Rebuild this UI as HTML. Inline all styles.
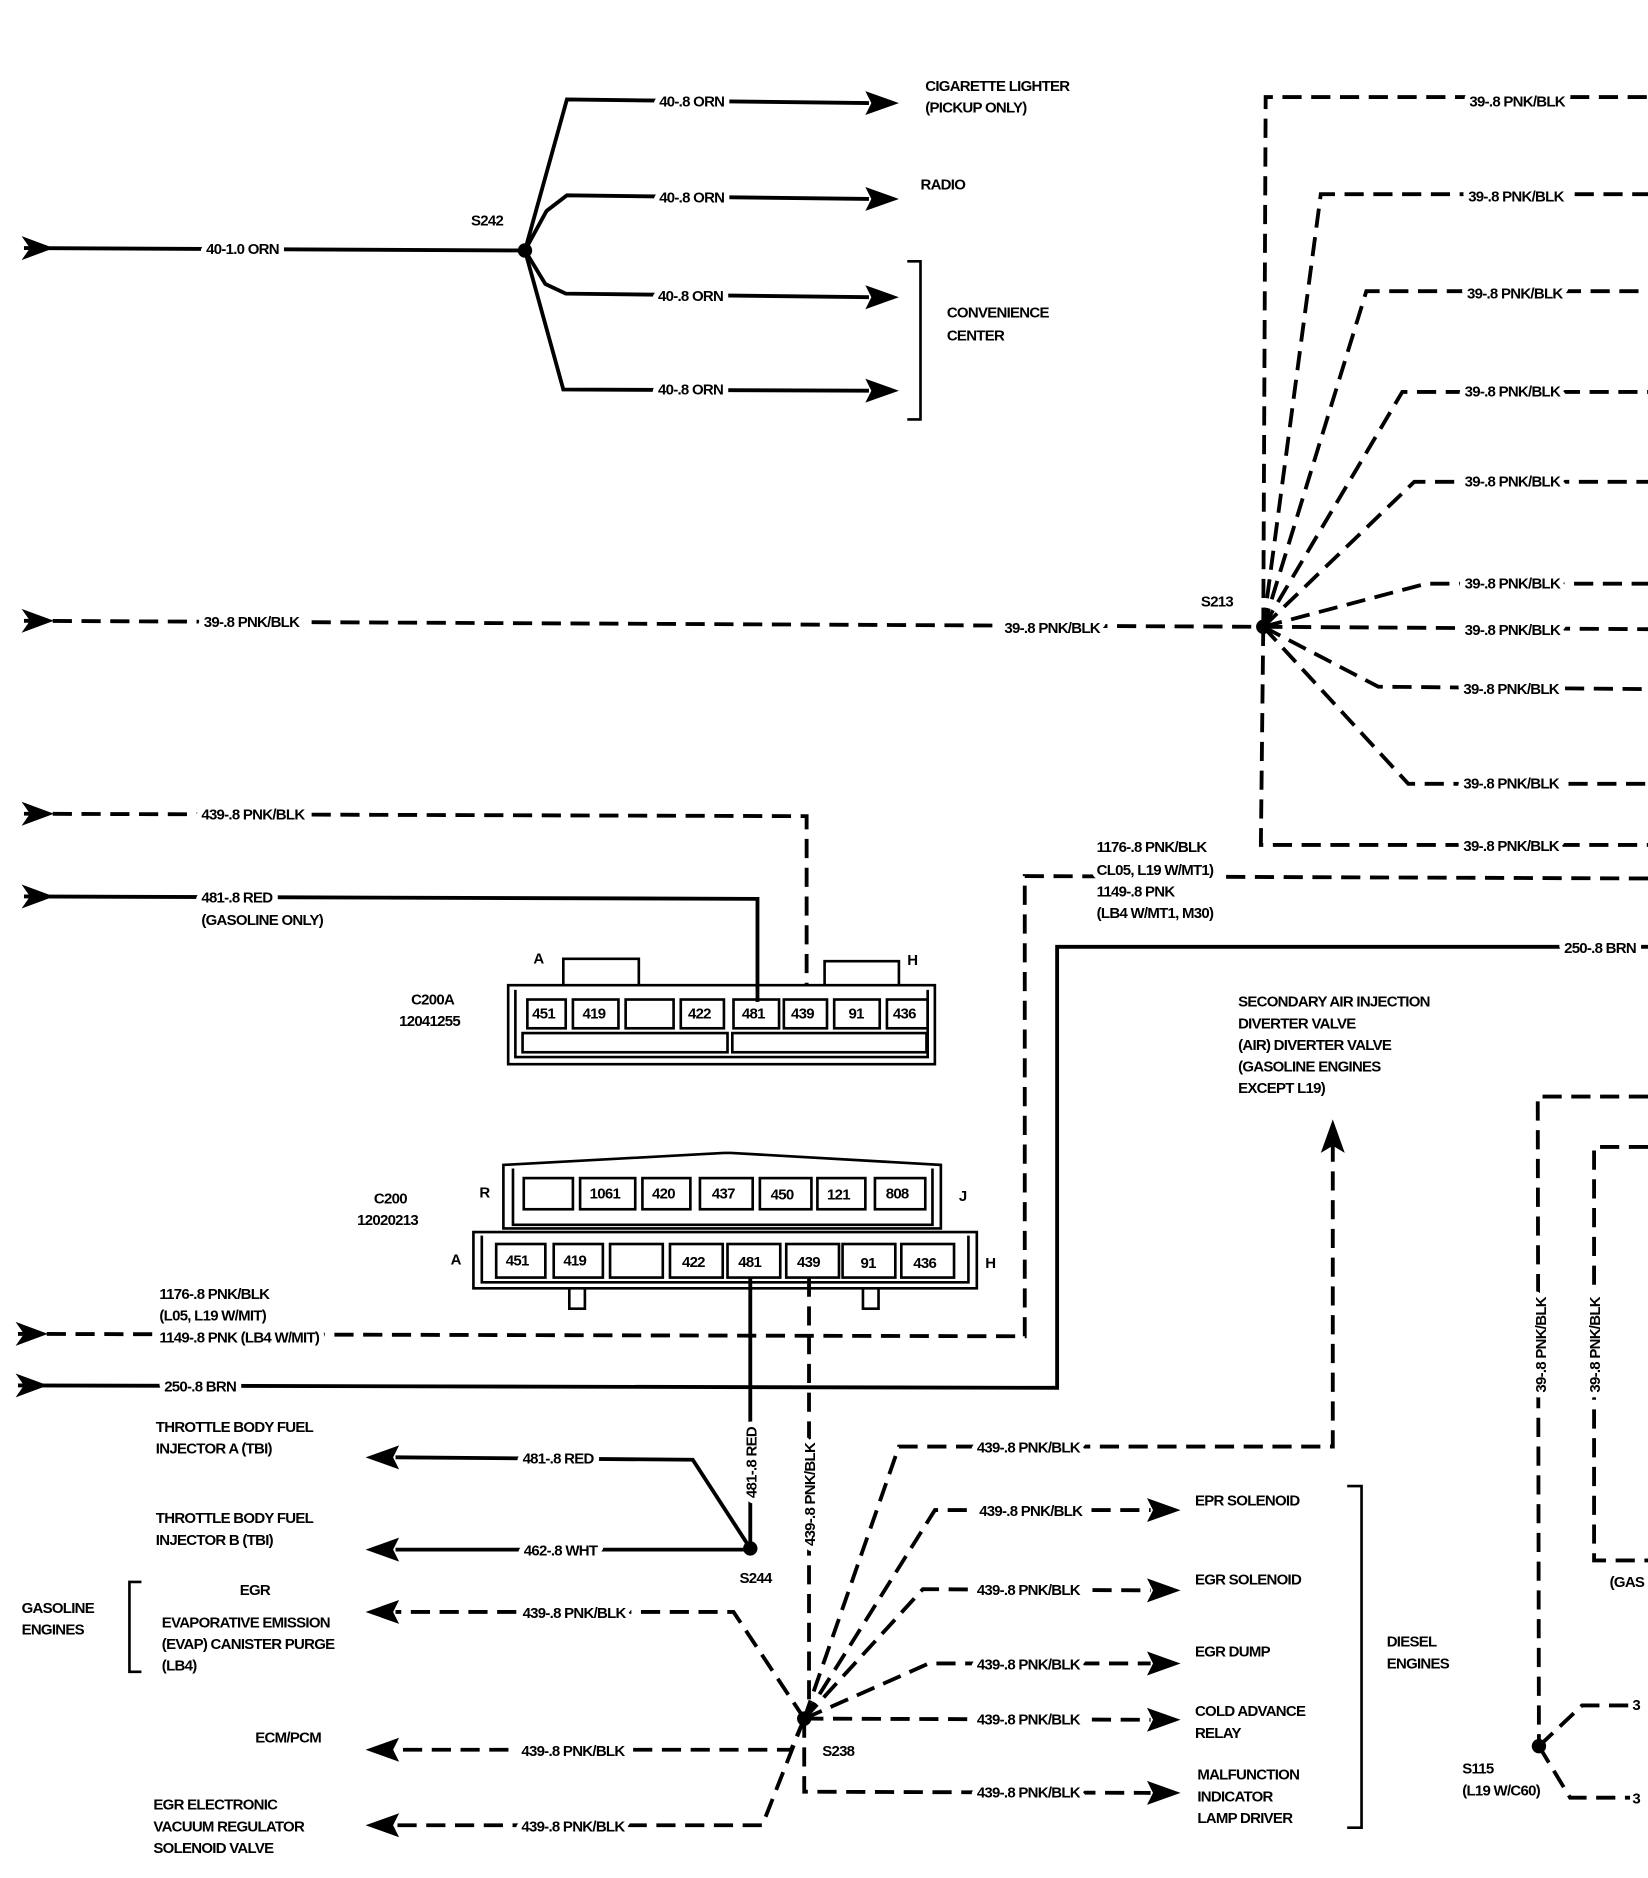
<!DOCTYPE html>
<html><head><meta charset="utf-8"><style>
html,body{margin:0;padding:0;background:#fff;}
svg{display:block;}
text{font-family:"Liberation Sans",sans-serif;font-weight:bold;font-size:12.5px;fill:#000;letter-spacing:-0.6px;}
.g{paint-order:stroke;stroke:#fff;stroke-width:9px;stroke-linejoin:round;}
.s{fill:none;stroke:#000;stroke-width:3.2;}
.d{fill:none;stroke:#000;stroke-width:3.2;stroke-dasharray:16 8;}
.b{fill:none;stroke:#000;stroke-width:2.2;}
</style></head><body>
<svg width="1648" height="1878" viewBox="0 0 1375 1567" preserveAspectRatio="none" xmlns="http://www.w3.org/2000/svg">
<rect width="1375" height="1567" fill="#fff"/>
<!-- S242 -->
<polyline class="s" points="20,207 438,209"/>
<polygon points="18,197 45,207 18,217 25,207"/>
<text class="g" x="172" y="212">40-1.0 ORN</text>
<circle cx="438" cy="209" r="6"/>
<text x="393" y="188">S242</text>
<polyline class="s" points="438,209 473,83 725,86"/>
<polyline class="s" points="438,209 456,176 473,163 725,166"/>
<polyline class="s" points="438,209 455,237 472,245 725,248"/>
<polyline class="s" points="438,209 470,325 725,326"/>
<polygon points="722,76 750,86 722,96 727,86"/>
<polygon points="722,156 750,166 722,176 727,166"/>
<polygon points="722,238 750,248 722,258 727,248"/>
<polygon points="722,316 750,326 722,336 727,326"/>
<text class="g" x="550" y="89">40-.8 ORN</text>
<text class="g" x="550" y="169">40-.8 ORN</text>
<text class="g" x="549" y="251">40-.8 ORN</text>
<text class="g" x="549" y="329">40-.8 ORN</text>
<text x="772" y="76">CIGARETTE LIGHTER</text>
<text x="772" y="94">(PICKUP ONLY)</text>
<text x="768" y="158">RADIO</text>
<polyline class="b" points="757,218 768,218 768,350 757,350"/>
<text x="790" y="265">CONVENIENCE</text>
<text x="790" y="284">CENTER</text>
<!-- S213 -->
<polyline class="d" points="20,518 1054,523"/>
<polygon points="18,508 45,518 18,528 25,518"/>
<text class="g" x="170" y="523">39-.8 PNK/BLK</text>
<text class="g" x="838" y="528">39-.8 PNK/BLK</text>
<circle cx="1054" cy="523" r="6"/>
<text x="1002" y="506">S213</text>
<polyline class="d" points="1054,523 1056,81 1375,81"/>
<polyline class="d" points="1054,523 1102,162 1375,162"/>
<polyline class="d" points="1054,523 1140,243 1375,243"/>
<polyline class="d" points="1054,523 1170,327 1375,327"/>
<polyline class="d" points="1054,523 1180,402 1375,402"/>
<polyline class="d" points="1054,523 1190,487 1375,487"/>
<polyline class="d" points="1054,523 1375,525"/>
<polyline class="d" points="1054,523 1150,573 1375,575"/>
<polyline class="d" points="1054,523 1175,654 1375,654"/>
<polyline class="d" points="1054,523 1052,705 1375,705"/>
<text class="g" x="1226" y="89">39-.8 PNK/BLK</text>
<text class="g" x="1225" y="168">39-.8 PNK/BLK</text>
<text class="g" x="1224" y="249">39-.8 PNK/BLK</text>
<text class="g" x="1222" y="331">39-.8 PNK/BLK</text>
<text class="g" x="1222" y="406">39-.8 PNK/BLK</text>
<text class="g" x="1222" y="491">39-.8 PNK/BLK</text>
<text class="g" x="1222" y="530">39-.8 PNK/BLK</text>
<text class="g" x="1221" y="579">39-.8 PNK/BLK</text>
<text class="g" x="1221" y="658">39-.8 PNK/BLK</text>
<text class="g" x="1221" y="710">39-.8 PNK/BLK</text>
<!-- 439 / 481 inputs -->
<polyline class="d" points="20,679 673,681 673,822"/>
<polygon points="18,669 45,679 18,689 25,679"/>
<text class="g" x="168" y="684">439-.8 PNK/BLK</text>
<polyline class="s" points="20,748 632,750 632,836"/>
<polygon points="18,738 45,748 18,758 25,748"/>
<text class="g" x="168" y="753">481-.8 RED</text>
<text x="168" y="772">(GASOLINE ONLY)</text>
<!-- C200A -->
<g class="b">
<path d="M424,822 L424,888 L780,888 L780,822 Z"/>
<path d="M430,826 L430,882 L774,882 L774,826"/>
<path d="M470,822 L470,800 L533,800 L533,822"/>
<path d="M688,822 L688,802 L750,802 L750,822"/>
<rect x="440" y="834" width="32" height="24"/><rect x="478" y="834" width="38" height="24"/><rect x="522" y="834" width="40" height="24"/><rect x="568" y="834" width="36" height="24"/><rect x="612" y="834" width="38" height="24"/><rect x="654" y="834" width="36" height="24"/><rect x="696" y="834" width="38" height="24"/><rect x="740" y="834" width="34" height="24"/>
<rect x="436" y="862" width="171" height="16"/><rect x="611" y="862" width="162" height="16"/>
</g>
<text x="444" y="850">451</text><text x="486" y="850">419</text><text x="574" y="850">422</text><text x="619" y="850">481</text><text x="660" y="850">439</text><text x="708" y="850">91</text><text x="745" y="850">436</text>
<text x="445" y="804">A</text><text x="757" y="805">H</text>
<text x="343" y="838">C200A</text><text x="333" y="856">12041255</text>
<!-- C200 -->
<g class="b">
<path d="M420,972 L604,962 L610,962 L785,972 L785,1025 L420,1025 Z"/>
<path d="M428,975 L428,1022 L778,1022 L778,975"/>
<rect x="437" y="983" width="41" height="26"/><rect x="484" y="983" width="46" height="26"/><rect x="536" y="983" width="40" height="26"/><rect x="584" y="983" width="44" height="26"/><rect x="634" y="983" width="43" height="26"/><rect x="682" y="983" width="40" height="26"/><rect x="730" y="983" width="42" height="26"/>
<path d="M395,1028 L815,1028 L815,1075 L395,1075 Z"/>
<path d="M402,1031 L402,1070 L808,1070 L808,1031"/>
<rect x="414" y="1038" width="41" height="28"/><rect x="462" y="1038" width="41" height="28"/><rect x="509" y="1038" width="44" height="28"/><rect x="559" y="1038" width="44" height="28"/><rect x="607" y="1038" width="44" height="28"/><rect x="656" y="1038" width="44" height="28"/><rect x="703" y="1038" width="44" height="28"/><rect x="752" y="1038" width="44" height="28"/>
<path d="M475,1075 L475,1092 L488,1092 L488,1075"/><path d="M720,1075 L720,1092 L733,1092 L733,1075"/>
</g>
<text x="492" y="1000">1061</text><text x="544" y="1000">420</text><text x="594" y="1000">437</text><text x="643" y="1001">450</text><text x="690" y="1001">121</text><text x="739" y="1000">808</text>
<text x="422" y="1056">451</text><text x="470" y="1056">419</text><text x="569" y="1057">422</text><text x="616" y="1057">481</text><text x="665" y="1057">439</text><text x="718" y="1058">91</text><text x="762" y="1058">436</text>
<text x="400" y="999">R</text><text x="800" y="1002">J</text><text x="376" y="1055">A</text><text x="822" y="1058">H</text>
<text x="312" y="1004">C200</text><text x="298" y="1022">12020213</text>
<!-- 1176 / 250 -->
<polyline class="d" points="15,1113 855,1115 855,731 1375,733"/>
<polygon points="13,1103 40,1113 13,1123 20,1113"/>
<text x="133" y="1084">1176-.8 PNK/BLK</text>
<text x="133" y="1102">(L05, L19 W/MIT)</text>
<text class="g" x="133" y="1120">1149-.8 PNK  (LB4 W/MIT)</text>
<text class="g" x="915" y="711">1176-.8 PNK/BLK</text>
<text class="g" x="915" y="730">CL05, L19 W/MT1)</text>
<text class="g" x="915" y="748">1149-.8 PNK</text>
<text class="g" x="915" y="766">(LB4 W/MT1, M30)</text>
<polyline class="s" points="15,1156 882,1158 882,790 1375,790"/>
<polygon points="13,1146 40,1156 13,1166 20,1156"/>
<text class="g" x="137" y="1161">250-.8 BRN</text>
<text class="g" x="1305" y="795">250-.8 BRN</text>
<!-- wires down -->
<polyline class="s" points="626,1066 626,1292"/>
<polyline class="d" points="675,1066 675,1420"/>
<text class="g" transform="translate(631,1250) rotate(-90)">481-.8 RED</text>
<text class="g" transform="translate(680,1290) rotate(-90)">439-.8 PNK/BLK</text>
<!-- AIR -->
<text x="1033" y="840">SECONDARY AIR INJECTION</text>
<text x="1033" y="858">DIVERTER VALVE</text>
<text x="1033" y="876">(AIR) DIVERTER VALVE</text>
<text x="1033" y="894">(GASOLINE ENGINES</text>
<text x="1033" y="912">EXCEPT L19)</text>
<polyline class="d" points="671,1434 750,1207 1112,1207 1112,955"/>
<polygon points="1102,962 1112,934 1122,962 1112,956"/>
<text class="g" x="815" y="1212">439-.8 PNK/BLK</text>
<!-- S244 -->
<circle cx="626" cy="1292" r="6"/>
<text x="617" y="1321">S244</text>
<polyline class="s" points="626,1292 578,1218 330,1216"/>
<polygon points="333,1206 305,1216 333,1226 328,1216"/>
<text class="g" x="436" y="1221">481-.8 RED</text>
<polyline class="s" points="626,1293 330,1293"/>
<polygon points="333,1283 305,1293 333,1303 328,1293"/>
<text class="g" x="437" y="1298">462-.8 WHT</text>
<text x="130" y="1195">THROTTLE BODY FUEL</text>
<text x="130" y="1213">INJECTOR A (TBI)</text>
<text x="130" y="1271">THROTTLE BODY FUEL</text>
<text x="130" y="1289">INJECTOR B (TBI)</text>
<!-- S238 -->
<circle cx="671" cy="1434" r="6"/>
<text x="686" y="1465">S238</text>
<polyline class="d" points="671,1434 612,1345 330,1345"/>
<polygon points="333,1335 305,1345 333,1355 328,1345"/>
<text class="g" x="436" y="1350">439-.8 PNK/BLK</text>
<polyline class="d" points="671,1434 660,1460 330,1460"/>
<polygon points="333,1450 305,1460 333,1470 328,1460"/>
<text class="g" x="435" y="1465">439-.8 PNK/BLK</text>
<polyline class="d" points="671,1434 636,1523 330,1523"/>
<polygon points="333,1513 305,1523 333,1533 328,1523"/>
<text class="g" x="435" y="1528">439-.8 PNK/BLK</text>
<text x="200" y="1331">EGR</text>
<text x="135" y="1358">EVAPORATIVE EMISSION</text>
<text x="135" y="1376">(EVAP) CANISTER PURGE</text>
<text x="135" y="1394">(LB4)</text>
<polyline class="b" points="118,1320 108,1320 108,1395 118,1395"/>
<text x="18" y="1346">GASOLINE</text>
<text x="18" y="1364">ENGINES</text>
<text x="213" y="1454">ECM/PCM</text>
<text x="128" y="1510">EGR ELECTRONIC</text>
<text x="128" y="1528">VACUUM REGULATOR</text>
<text x="128" y="1546">SOLENOID VALVE</text>
<polyline class="d" points="671,1434 780,1260 960,1260"/>
<polyline class="d" points="671,1434 770,1326 960,1327"/>
<polyline class="d" points="671,1434 775,1388 960,1388"/>
<polyline class="d" points="671,1434 960,1435"/>
<polyline class="d" points="671,1434 671,1495 960,1496"/>
<polygon points="957,1250 985,1260 957,1270 962,1260"/>
<polygon points="957,1317 985,1327 957,1337 962,1327"/>
<polygon points="957,1378 985,1388 957,1398 962,1388"/>
<polygon points="957,1425 985,1435 957,1445 962,1435"/>
<polygon points="957,1486 985,1496 957,1506 962,1496"/>
<text class="g" x="817" y="1265">439-.8 PNK/BLK</text>
<text class="g" x="815" y="1331">439-.8 PNK/BLK</text>
<text class="g" x="815" y="1393">439-.8 PNK/BLK</text>
<text class="g" x="815" y="1439">439-.8 PNK/BLK</text>
<text class="g" x="815" y="1500">439-.8 PNK/BLK</text>
<text x="997" y="1256">EPR SOLENOID</text>
<text x="997" y="1322">EGR SOLENOID</text>
<text x="997" y="1382">EGR DUMP</text>
<text x="997" y="1432">COLD ADVANCE</text>
<text x="997" y="1450">RELAY</text>
<text x="999" y="1485">MALFUNCTION</text>
<text x="999" y="1503">INDICATOR</text>
<text x="999" y="1521">LAMP DRIVER</text>
<polyline class="b" points="1124,1240 1136,1240 1136,1525 1124,1525"/>
<text x="1157" y="1374">DIESEL</text>
<text x="1157" y="1392">ENGINES</text>
<!-- far right -->
<polyline class="d" points="1375,915 1283,915 1284,1457"/>
<polyline class="d" points="1375,957 1330,957 1330,1302 1375,1302"/>
<text class="g" transform="translate(1290,1162) rotate(-90)">39-.8 PNK/BLK</text>
<text class="g" transform="translate(1335,1162) rotate(-90)">39-.8 PNK/BLK</text>
<text x="1343" y="1324">(GAS</text>
<circle cx="1284" cy="1457" r="6"/>
<polyline class="d" points="1284,1457 1320,1423 1360,1423"/>
<polyline class="d" points="1284,1457 1310,1500 1360,1500"/>
<text x="1362" y="1427">3</text><text x="1362" y="1505">3</text>
<text x="1220" y="1480">S115</text>
<text x="1220" y="1498">(L19 W/C60)</text>
</svg>
</body></html>
